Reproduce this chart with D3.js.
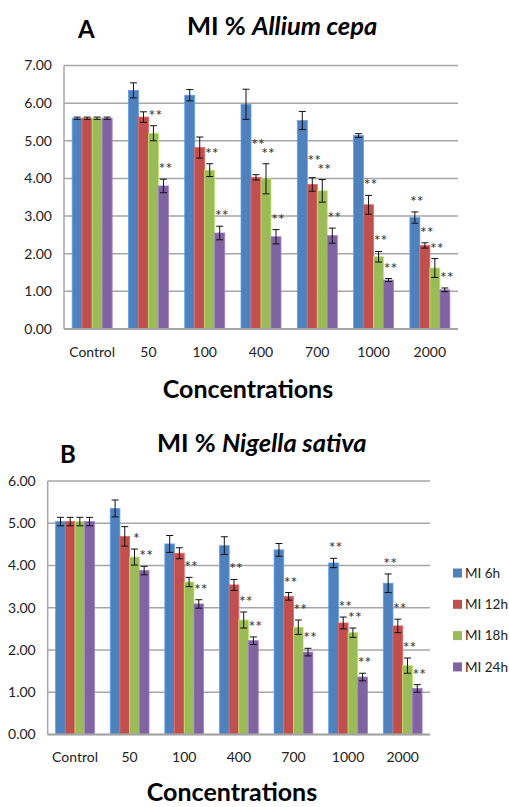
<!DOCTYPE html>
<html>
<head>
<meta charset="utf-8">
<script src="https://cdn.jsdelivr.net/npm/d3@7"></script>
<style>
body { margin: 0; background: #fff; }
svg { display: block; font-family: Lato, "Open Sans", sans-serif; }
</style>
</head>
<body>
<div id="chart"></div>
<script>
var categories = ["Control", "50", "100", "400", "700", "1000", "2000"];
var seriesNames = ["MI 6h", "MI 12h", "MI 18h", "MI 24h"];
var colors = ["#4F81BD", "#C0504D", "#9BBB59", "#8064A2"];

// A - Allium cepa, one row per concentration: 6h, 12h, 18h, 24h
var alliumMeans = [
    [5.60, 5.60, 5.60, 5.60],
    [6.34, 5.63, 5.20, 3.80],
    [6.21, 4.82, 4.22, 2.55],
    [5.97, 4.03, 3.99, 2.45],
    [5.54, 3.84, 3.67, 2.48],
    [5.14, 3.30, 1.92, 1.30],
    [2.96, 2.22, 1.62, 1.04]
];
var alliumErrors = [
    [0.03, 0.03, 0.03, 0.03],
    [0.20, 0.14, 0.20, 0.18],
    [0.15, 0.28, 0.17, 0.18],
    [0.40, 0.07, 0.40, 0.19],
    [0.24, 0.18, 0.30, 0.20],
    [0.05, 0.25, 0.14, 0.04],
    [0.15, 0.07, 0.25, 0.05]
];
var alliumStars = [
    ["", "", "", ""],
    ["", "", "**", "**"],
    ["", "", "**", "**"],
    ["", "**", "**", "**"],
    ["", "**", "**", "**"],
    ["", "**", "**", "**"],
    ["**", "**", "**", "**"]
];
var alliumTicks = [0, 1, 2, 3, 4, 5, 6, 7];

// B - Nigella sativa
var nigellaMeans = [
    [5.04, 5.04, 5.04, 5.04],
    [5.35, 4.69, 4.20, 3.88],
    [4.51, 4.29, 3.61, 3.09],
    [4.47, 3.54, 2.71, 2.22],
    [4.37, 3.27, 2.54, 1.95],
    [4.06, 2.64, 2.41, 1.36],
    [3.58, 2.57, 1.63, 1.09]
];
var nigellaErrors = [
    [0.10, 0.10, 0.10, 0.10],
    [0.20, 0.23, 0.19, 0.10],
    [0.20, 0.13, 0.11, 0.10],
    [0.21, 0.13, 0.19, 0.09],
    [0.15, 0.09, 0.17, 0.09],
    [0.11, 0.14, 0.11, 0.09],
    [0.22, 0.16, 0.18, 0.09]
];
var nigellaStars = [
    ["", "", "", ""],
    ["", "", "*", "**"],
    ["", "", "**", "**"],
    ["", "**", "**", "**"],
    ["", "**", "**", "**"],
    ["**", "**", "**", "**"],
    ["**", "**", "**", "**"]
];
var nigellaTicks = [0, 1, 2, 3, 4, 5, 6];

var svg = d3.select("#chart").append("svg")
    .attr("width", 509)
    .attr("height", 807);

function drawPanel(p) {
    var x0 = d3.scaleBand()
        .domain(categories)
        .range([p.left, p.right])
        .paddingInner(0.29)
        .paddingOuter(0.145);

    var x1 = d3.scaleBand()
        .domain(d3.range(seriesNames.length))
        .range([0, x0.bandwidth()]);

    var y = d3.scaleLinear()
        .domain([0, d3.max(p.ticks)])
        .range([p.bottom, p.top]);

    var g = svg.append("g");

    // gridlines
    g.append("g").selectAll("line")
        .data(p.ticks)
        .enter().append("line")
        .attr("x1", p.left).attr("x2", p.right)
        .attr("y1", function(d) { return y(d); })
        .attr("y2", function(d) { return y(d); })
        .attr("stroke", "#a6a6a6")
        .attr("stroke-width", 1.5);

    // left axis line
    g.append("line")
        .attr("x1", p.left).attr("x2", p.left)
        .attr("y1", p.top).attr("y2", p.bottom)
        .attr("stroke", "#a6a6a6")
        .attr("stroke-width", 1.5);

    // y tick labels
    g.append("g").selectAll("text")
        .data(p.ticks)
        .enter().append("text")
        .attr("x", p.left - 12)
        .attr("y", function(d) { return y(d); })
        .attr("dy", "0.35em")
        .attr("text-anchor", "end")
        .attr("font-size", 14)
        .attr("fill", "#222")
        .text(d3.format(".2f"));

    // bars
    var groups = g.append("g").selectAll("g")
        .data(p.means)
        .enter().append("g")
        .attr("transform", function(d, i) { return "translate(" + x0(categories[i]) + ",0)"; });

    groups.selectAll("rect")
        .data(function(d) { return d; })
        .enter().append("rect")
        .attr("x", function(d, j) { return x1(j); })
        .attr("width", x1.bandwidth())
        .attr("y", function(d) { return y(d); })
        .attr("height", function(d) { return p.bottom - y(d); })
        .attr("fill", function(d, j) { return colors[j]; })
        .attr("stroke", function(d, j) { return d3.color(colors[j]).brighter(0.6); })
        .attr("stroke-width", 0.8);

    // error bars + significance stars
    groups.each(function(row, i) {
        var eg = d3.select(this);
        var starY = [];
        // go right to left so a star sits above its right neighbour's star when they collide
        for (var j = row.length - 1; j >= 0; j--) {
            var yy = y(row[j] + p.errors[i][j]) - 5;
            if (j < row.length - 1 && p.stars[i][j + 1] && yy > starY[j + 1] - 9) {
                yy = starY[j + 1] - 9;
            }
            starY[j] = yy;
        }
        row.forEach(function(m, j) {
            var cx = x1(j) + x1.bandwidth() / 2;
            var e = p.errors[i][j];
            eg.append("path")
                .attr("d", "M" + cx + "," + y(m + e) + "V" + y(m - e) +
                    "M" + (cx - 3.5) + "," + y(m + e) + "H" + (cx + 3.5) +
                    "M" + (cx - 3.5) + "," + y(m - e) + "H" + (cx + 3.5))
                .attr("stroke", "#111")
                .attr("stroke-width", 1)
                .attr("fill", "none");
            var s = p.stars[i][j];
            if (s) {
                eg.append("text")
                    .attr("x", cx + 2)
                    .attr("y", starY[j])
                    .attr("text-anchor", "middle")
                    .attr("font-size", 16)
                    .attr("fill", "#333")
                    .text(s);
            }
        });
    });

    // bottom axis line
    g.append("line")
        .attr("x1", p.left).attr("x2", p.right)
        .attr("y1", p.bottom).attr("y2", p.bottom)
        .attr("stroke", "#a6a6a6")
        .attr("stroke-width", 2);

    // category labels
    g.append("g").selectAll("text")
        .data(categories)
        .enter().append("text")
        .attr("x", function(d) { return x0(d) + x0.bandwidth() / 2; })
        .attr("y", p.bottom + 23)
        .attr("dy", "0.35em")
        .attr("text-anchor", "middle")
        .attr("font-size", 14)
        .attr("fill", "#222")
        .text(function(d) { return d; });

    // x axis title
    g.append("text")
        .attr("x", p.xTitleX)
        .attr("y", p.xTitleY)
        .attr("text-anchor", "middle")
        .attr("font-size", 25)
        .attr("font-weight", "bold")
        .attr("fill", "#000")
        .text("Concentrations");

    // panel letter
    g.append("text")
        .attr("x", p.letterX)
        .attr("y", p.letterY)
        .attr("font-size", 24)
        .attr("font-weight", "bold")
        .text(p.letter);

    // chart title
    var t = g.append("text")
        .attr("x", p.titleX)
        .attr("y", p.titleY)
        .attr("font-size", 25.5)
        .attr("font-weight", "bold");
    t.append("tspan").text("MI % ");
    t.append("tspan").attr("font-style", "italic").text(p.species);
}

drawPanel({
    means: alliumMeans, errors: alliumErrors, stars: alliumStars, ticks: alliumTicks,
    left: 64, right: 458, top: 65.5, bottom: 329,
    letter: "A", letterX: 78, letterY: 38,
    species: "Allium cepa", titleX: 187, titleY: 35,
    xTitleX: 248, xTitleY: 398
});

drawPanel({
    means: nigellaMeans, errors: nigellaErrors, stars: nigellaStars, ticks: nigellaTicks,
    left: 47.7, right: 430, top: 481, bottom: 734.5,
    letter: "B", letterX: 60, letterY: 463,
    species: "Nigella sativa", titleX: 157, titleY: 452,
    xTitleX: 232, xTitleY: 801
});

// legend (panel B)
var legend = svg.append("g").selectAll("g")
    .data(seriesNames)
    .enter().append("g")
    .attr("transform", function(d, i) { return "translate(453," + (573 + i * 31.3) + ")"; });

legend.append("rect")
    .attr("x", 0).attr("y", -4.5)
    .attr("width", 9).attr("height", 9)
    .attr("fill", function(d, i) { return colors[i]; });

legend.append("text")
    .attr("x", 12)
    .attr("dy", "0.35em")
    .attr("font-size", 13.5)
    .attr("fill", "#222")
    .text(function(d) { return d; });
</script>
</body>
</html>
